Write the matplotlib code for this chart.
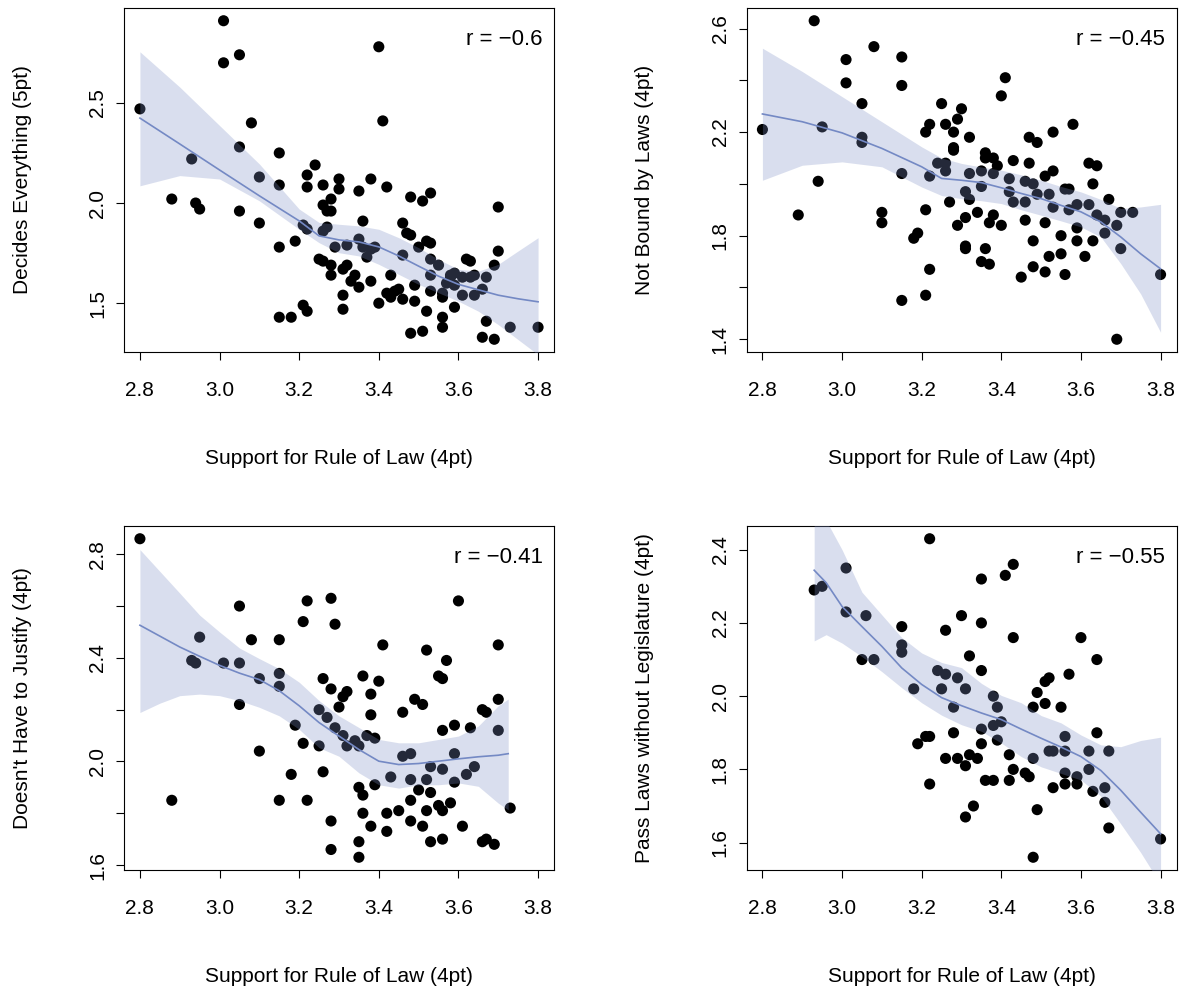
import matplotlib
matplotlib.use('agg')
import matplotlib.pyplot as plt
import numpy as np

plt.rcParams['font.family'] = ['Liberation Sans', 'DejaVu Sans']
plt.rcParams['font.size'] = 15

xLabel = 'Support for Rule of Law (4pt)'
xTicks = [2.8, 3.0, 3.2, 3.4, 3.6, 3.8]
xLimits = (2.76, 3.84)

bandColor = '#7E8FC5'
lineColor = '#7489C4'

# Decides Everything (5pt)
decidesX = [2.80, 2.88, 2.93, 2.94, 2.95, 3.01, 3.01, 3.05, 3.05, 3.05,
            3.08, 3.10, 3.10, 3.15, 3.15, 3.15, 3.15, 3.18, 3.19, 3.21,
            3.22, 3.21, 3.22, 3.22, 3.22, 3.24, 3.26, 3.25, 3.26, 3.26,
            3.27, 3.28, 3.28, 3.26, 3.27, 3.28, 3.28, 3.30, 3.30, 3.29,
            3.31, 3.31, 3.31, 3.32, 3.32, 3.33, 3.34, 3.35, 3.35, 3.35,
            3.36, 3.36, 3.37, 3.38, 3.38, 3.38, 3.39, 3.40, 3.41, 3.42,
            3.43, 3.42, 3.40, 3.43, 3.44, 3.45, 3.46, 3.46, 3.46, 3.47,
            3.48, 3.48, 3.48, 3.49, 3.49, 3.50, 3.51, 3.51, 3.52, 3.52,
            3.53, 3.53, 3.53, 3.53, 3.53, 3.55, 3.56, 3.56, 3.56, 3.56,
            3.57, 3.58, 3.58, 3.59, 3.59, 3.59, 3.61, 3.61, 3.62, 3.63,
            3.63, 3.64, 3.64, 3.66, 3.67, 3.67, 3.66, 3.69, 3.69, 3.70,
            3.70, 3.73, 3.80]
decidesY = [2.47, 2.02, 2.22, 2.00, 1.97, 2.70, 2.91, 2.74, 1.96, 2.28,
            2.40, 2.13, 1.90, 2.25, 2.09, 1.78, 1.43, 1.43, 1.81, 1.89,
            1.87, 1.49, 1.46, 2.14, 2.08, 2.19, 2.09, 1.72, 1.71, 1.99,
            1.96, 2.02, 1.96, 1.86, 1.88, 1.64, 1.69, 2.12, 2.07, 1.78,
            1.54, 1.47, 1.67, 1.79, 1.69, 1.61, 1.64, 1.58, 2.06, 1.82,
            1.91, 1.78, 1.73, 2.12, 1.77, 1.61, 1.78, 2.78, 2.41, 2.08,
            1.64, 1.55, 1.50, 1.53, 1.56, 1.57, 1.52, 1.90, 1.74, 1.85,
            2.03, 1.84, 1.35, 1.51, 1.59, 1.78, 2.01, 1.36, 1.46, 1.81,
            2.05, 1.64, 1.80, 1.72, 1.56, 1.69, 1.43, 1.38, 1.53, 1.55,
            1.60, 1.63, 1.64, 1.65, 1.48, 1.59, 1.63, 1.54, 1.72, 1.71,
            1.63, 1.54, 1.64, 1.57, 1.63, 1.41, 1.33, 1.32, 1.69, 1.76,
            1.98, 1.38, 1.38]
decidesGrid = [2.80, 2.90, 3.00, 3.10, 3.20, 3.25, 3.30, 3.35, 3.40,
               3.45, 3.50, 3.55, 3.60, 3.65, 3.70, 3.75, 3.80]
decidesFit = [2.424, 2.295, 2.165, 2.036, 1.911, 1.836, 1.816, 1.806, 1.781,
              1.736, 1.685, 1.635, 1.594, 1.567, 1.540, 1.522, 1.507]
decidesLow = [2.086, 2.137, 2.120, 2.011, 1.869, 1.802, 1.752, 1.736, 1.694,
              1.644, 1.594, 1.552, 1.510, 1.460, 1.393, 1.318, 1.243]
decidesHigh = [2.755, 2.579, 2.387, 2.195, 1.970, 1.903, 1.894, 1.886, 1.869,
               1.827, 1.777, 1.719, 1.669, 1.660, 1.694, 1.761, 1.827]

# Not Bound by Laws (4pt)
boundX = [2.80, 2.89, 2.93, 2.94, 2.95, 3.01, 3.01, 3.05, 3.05, 3.05,
          3.08, 3.10, 3.10, 3.15, 3.15, 3.15, 3.15, 3.18, 3.19, 3.21,
          3.21, 3.22, 3.22, 3.21, 3.22, 3.24, 3.25, 3.26, 3.26, 3.26,
          3.27, 3.28, 3.28, 3.28, 3.29, 3.30, 3.29, 3.31, 3.31, 3.31,
          3.31, 3.32, 3.32, 3.32, 3.34, 3.35, 3.35, 3.36, 3.37, 3.36,
          3.36, 3.35, 3.38, 3.37, 3.38, 3.38, 3.39, 3.40, 3.40, 3.41,
          3.42, 3.42, 3.43, 3.43, 3.45, 3.46, 3.46, 3.46, 3.47, 3.47,
          3.48, 3.48, 3.48, 3.49, 3.49, 3.51, 3.51, 3.51, 3.52, 3.52,
          3.53, 3.53, 3.53, 3.55, 3.55, 3.56, 3.56, 3.57, 3.57, 3.58,
          3.59, 3.59, 3.59, 3.61, 3.62, 3.64, 3.63, 3.62, 3.63, 3.64,
          3.66, 3.66, 3.67, 3.69, 3.70, 3.70, 3.73, 3.69, 3.80]
boundY = [2.21, 1.88, 2.63, 2.01, 2.22, 2.48, 2.39, 2.31, 2.18, 2.16,
          2.53, 1.89, 1.85, 2.49, 2.38, 2.04, 1.55, 1.79, 1.81, 1.90,
          1.57, 1.67, 2.03, 2.20, 2.23, 2.08, 2.31, 2.23, 2.08, 2.05,
          1.93, 2.14, 2.13, 2.20, 2.25, 2.29, 1.84, 1.76, 1.75, 1.97,
          1.87, 1.94, 2.18, 2.04, 1.89, 1.99, 1.70, 1.75, 1.69, 2.10,
          2.12, 2.05, 1.88, 1.85, 2.10, 2.04, 2.07, 1.84, 2.34, 2.41,
          2.02, 1.97, 1.93, 2.09, 1.64, 1.93, 1.86, 2.01, 2.18, 2.08,
          2.00, 1.78, 1.68, 2.16, 1.96, 1.85, 2.03, 1.66, 1.96, 1.72,
          2.05, 2.20, 1.91, 1.80, 1.73, 1.65, 1.98, 1.98, 1.90, 2.23,
          1.83, 1.78, 1.92, 1.72, 2.08, 2.07, 2.00, 1.92, 1.78, 1.88,
          1.86, 1.81, 1.94, 1.84, 1.89, 1.75, 1.89, 1.40, 1.65]
boundGrid = [2.80, 2.90, 3.00, 3.10, 3.20, 3.25, 3.30, 3.35, 3.40,
             3.45, 3.50, 3.55, 3.60, 3.65, 3.70, 3.75, 3.80]
boundFit = [2.270, 2.240, 2.197, 2.137, 2.066, 2.021, 2.014, 2.005, 1.985,
            1.963, 1.943, 1.917, 1.892, 1.853, 1.795, 1.730, 1.672]
boundLow = [2.014, 2.072, 2.085, 2.066, 1.988, 1.955, 1.943, 1.935, 1.924,
            1.900, 1.879, 1.857, 1.834, 1.795, 1.692, 1.575, 1.427]
boundHigh = [2.524, 2.434, 2.337, 2.240, 2.143, 2.100, 2.079, 2.065, 2.053,
             2.035, 2.014, 1.990, 1.969, 1.940, 1.905, 1.911, 1.921]

# Doesn't Have to Justify (4pt)
justifyX = [2.80, 2.88, 2.93, 2.94, 2.95, 3.01, 3.05, 3.05, 3.05, 3.08,
            3.10, 3.10, 3.15, 3.15, 3.15, 3.15, 3.18, 3.19, 3.21, 3.22,
            3.21, 3.22, 3.25, 3.26, 3.25, 3.26, 3.27, 3.28, 3.28, 3.29,
            3.28, 3.28, 3.29, 3.30, 3.31, 3.32, 3.31, 3.32, 3.34, 3.35,
            3.35, 3.36, 3.36, 3.35, 3.35, 3.36, 3.37, 3.38, 3.38, 3.38,
            3.39, 3.39, 3.40, 3.41, 3.42, 3.42, 3.43, 3.45, 3.46, 3.46,
            3.48, 3.48, 3.48, 3.48, 3.49, 3.50, 3.51, 3.51, 3.52, 3.52,
            3.53, 3.52, 3.53, 3.53, 3.55, 3.56, 3.56, 3.56, 3.55, 3.56,
            3.56, 3.57, 3.58, 3.59, 3.59, 3.59, 3.60, 3.61, 3.62, 3.63,
            3.64, 3.66, 3.67, 3.66, 3.67, 3.69, 3.70, 3.70, 3.70, 3.73]
justifyY = [2.86, 1.85, 2.39, 2.38, 2.48, 2.38, 2.60, 2.38, 2.22, 2.47,
            2.32, 2.04, 2.47, 2.34, 2.29, 1.85, 1.95, 2.14, 2.07, 2.62,
            2.54, 1.85, 2.20, 2.32, 2.06, 1.96, 2.17, 2.28, 2.63, 2.53,
            1.77, 1.66, 2.13, 2.21, 2.25, 2.27, 2.10, 2.06, 2.08, 2.06,
            1.90, 1.87, 1.80, 1.69, 1.63, 2.33, 2.10, 2.18, 1.75, 2.26,
            2.09, 1.91, 2.31, 2.45, 1.80, 1.73, 1.94, 1.81, 2.02, 2.19,
            1.85, 1.93, 2.03, 1.77, 2.24, 1.89, 2.22, 1.75, 1.81, 2.43,
            1.98, 1.93, 1.69, 1.88, 2.33, 2.12, 1.97, 1.70, 1.83, 1.81,
            2.32, 2.39, 1.84, 2.14, 1.92, 2.03, 2.62, 1.75, 1.95, 2.13,
            1.98, 1.69, 1.70, 2.20, 2.19, 1.68, 2.24, 2.12, 2.45, 1.82]
justifyGrid = [2.80, 2.85, 2.90, 2.95, 3.00, 3.05, 3.10, 3.15, 3.20, 3.25,
               3.30, 3.35, 3.40, 3.45, 3.50, 3.55, 3.60, 3.65, 3.70, 3.725]
justifyFit = [2.526, 2.484, 2.442, 2.406, 2.371, 2.341, 2.316, 2.273, 2.215, 2.150,
              2.098, 2.046, 2.001, 1.988, 1.992, 2.001, 2.010, 2.018, 2.024, 2.030]
justifyLow = [2.189, 2.225, 2.254, 2.260, 2.254, 2.235, 2.209, 2.176, 2.124, 2.053,
              2.020, 1.956, 1.910, 1.897, 1.910, 1.910, 1.917, 1.904, 1.839, 1.813]
justifyHigh = [2.818, 2.734, 2.650, 2.565, 2.500, 2.438, 2.397, 2.358, 2.306, 2.235,
               2.176, 2.131, 2.085, 2.072, 2.072, 2.085, 2.098, 2.137, 2.215, 2.241]

# Pass Laws without Legislature (4pt)
passX = [2.93, 2.95, 3.01, 3.01, 3.06, 3.05, 3.08, 3.15, 3.15, 3.15,
         3.18, 3.19, 3.21, 3.22, 3.22, 3.22, 3.24, 3.25, 3.26, 3.26,
         3.26, 3.28, 3.28, 3.29, 3.29, 3.30, 3.31, 3.31, 3.31, 3.32,
         3.33, 3.32, 3.34, 3.35, 3.35, 3.35, 3.35, 3.35, 3.36, 3.38,
         3.38, 3.38, 3.39, 3.39, 3.40, 3.41, 3.43, 3.43, 3.42, 3.43,
         3.42, 3.46, 3.47, 3.48, 3.48, 3.48, 3.49, 3.49, 3.51, 3.51,
         3.52, 3.52, 3.53, 3.53, 3.55, 3.56, 3.56, 3.56, 3.56, 3.57,
         3.59, 3.59, 3.60, 3.62, 3.62, 3.63, 3.64, 3.64, 3.66, 3.66,
         3.67, 3.67, 3.80]
passY = [2.29, 2.30, 2.35, 2.23, 2.22, 2.10, 2.10, 2.19, 2.14, 2.12,
         2.02, 1.87, 1.89, 1.89, 2.43, 1.76, 2.07, 2.02, 2.06, 2.18,
         1.83, 1.90, 1.97, 2.05, 1.83, 2.22, 2.02, 1.81, 1.67, 2.11,
         1.70, 1.84, 1.83, 2.32, 2.20, 1.91, 2.07, 1.87, 1.77, 1.77,
         1.92, 2.00, 1.97, 1.88, 1.93, 2.33, 2.36, 2.16, 1.84, 1.80,
         1.77, 1.79, 1.78, 1.97, 1.83, 1.56, 2.01, 1.69, 1.98, 2.04,
         2.05, 1.85, 1.85, 1.75, 1.97, 1.89, 1.85, 1.79, 1.76, 2.06,
         1.76, 1.78, 2.16, 1.80, 1.85, 1.74, 2.10, 1.90, 1.71, 1.75,
         1.85, 1.64, 1.61]
passGrid = [2.93, 2.96, 3.00, 3.05, 3.10, 3.15, 3.20, 3.25, 3.30, 3.35,
            3.40, 3.45, 3.50, 3.55, 3.60, 3.65, 3.70, 3.75, 3.80]
passFit = [2.344, 2.310, 2.245, 2.190, 2.136, 2.077, 2.032, 1.996, 1.974, 1.954,
           1.936, 1.910, 1.885, 1.861, 1.835, 1.797, 1.743, 1.683, 1.624]
passLow = [2.151, 2.168, 2.145, 2.108, 2.067, 2.023, 1.982, 1.948, 1.922, 1.904,
           1.872, 1.835, 1.807, 1.789, 1.771, 1.727, 1.651, 1.573, 1.486]
passHigh = [2.540, 2.480, 2.400, 2.284, 2.222, 2.160, 2.118, 2.092, 2.078, 2.035,
            2.002, 1.982, 1.947, 1.927, 1.894, 1.867, 1.862, 1.879, 1.888]


def drawPanel(ax, xs, ys, grid, fit, low, high, yTicks, yShown, yLabel, rText):

    # points first, then the translucent band over them and the smoother on top
    ax.scatter(xs, ys, s=64, color='black', edgecolors='none', zorder=2)
    ax.fill_between(grid, low, high, color=bandColor, alpha=0.29, linewidth=0, zorder=3)
    ax.plot(grid, fit, color=lineColor, linewidth=1.2, zorder=4)

    # R style limits: data range padded by 4%
    yMin, yMax = min(ys), max(ys)
    pad = 0.04 * (yMax - yMin)
    ax.set_ylim(yMin - pad, yMax + pad)
    ax.set_xlim(*xLimits)

    ax.set_xticks(xTicks)
    ax.set_xticklabels(['%.1f' % t for t in xTicks])
    ax.set_yticks(yTicks)
    ax.set_yticklabels(['%.1f' % t if t in yShown else '' for t in yTicks])

    ax.tick_params(axis='both', direction='out', length=6, width=0.8, color='black')
    ax.tick_params(axis='x', pad=15)
    ax.tick_params(axis='y', pad=6, labelrotation=90)
    for lbl in ax.get_yticklabels():
        lbl.set_va('center')

    for side in ['top', 'right', 'bottom', 'left']:
        ax.spines[side].set_linewidth(0.8)
        ax.spines[side].set_color('black')

    ax.set_xlabel(xLabel, va='center')
    ax.xaxis.set_label_coords(0.5, -0.31)
    ax.set_ylabel(yLabel, va='center')
    ax.yaxis.set_label_coords(-0.237, 0.5)

    ax.text(0.974, 0.907, rText, transform=ax.transAxes, ha='right', va='center',
            fontsize=16)


fig = plt.figure(figsize=(11.85, 9.88), dpi=100)

W, H = 1185.0, 988.0
panelW, panelH = 430.0, 344.0
lefts = [124.0, 746.5]
tops = [8.0, 526.0]

ax1 = fig.add_axes([lefts[0] / W, 1 - (tops[0] + panelH) / H, panelW / W, panelH / H])
ax2 = fig.add_axes([lefts[1] / W, 1 - (tops[0] + panelH) / H, panelW / W, panelH / H])
ax3 = fig.add_axes([lefts[0] / W, 1 - (tops[1] + panelH) / H, panelW / W, panelH / H])
ax4 = fig.add_axes([lefts[1] / W, 1 - (tops[1] + panelH) / H, panelW / W, panelH / H])

drawPanel(ax1, decidesX, decidesY, decidesGrid, decidesFit, decidesLow, decidesHigh,
          [1.5, 2.0, 2.5], [1.5, 2.0, 2.5], 'Decides Everything (5pt)', 'r = \u22120.6')
drawPanel(ax2, boundX, boundY, boundGrid, boundFit, boundLow, boundHigh,
          [1.4, 1.6, 1.8, 2.0, 2.2, 2.4, 2.6], [1.4, 1.8, 2.2, 2.6],
          'Not Bound by Laws (4pt)', 'r = \u22120.45')
drawPanel(ax3, justifyX, justifyY, justifyGrid, justifyFit, justifyLow, justifyHigh,
          [1.6, 1.8, 2.0, 2.2, 2.4, 2.6, 2.8], [1.6, 2.0, 2.4, 2.8],
          "Doesn't Have to Justify (4pt)", 'r = \u22120.41')
drawPanel(ax4, passX, passY, passGrid, passFit, passLow, passHigh,
          [1.6, 1.8, 2.0, 2.2, 2.4], [1.6, 1.8, 2.0, 2.2, 2.4],
          'Pass Laws without Legislature (4pt)', 'r = \u22120.55')

plt.savefig('out.png', dpi=100)
